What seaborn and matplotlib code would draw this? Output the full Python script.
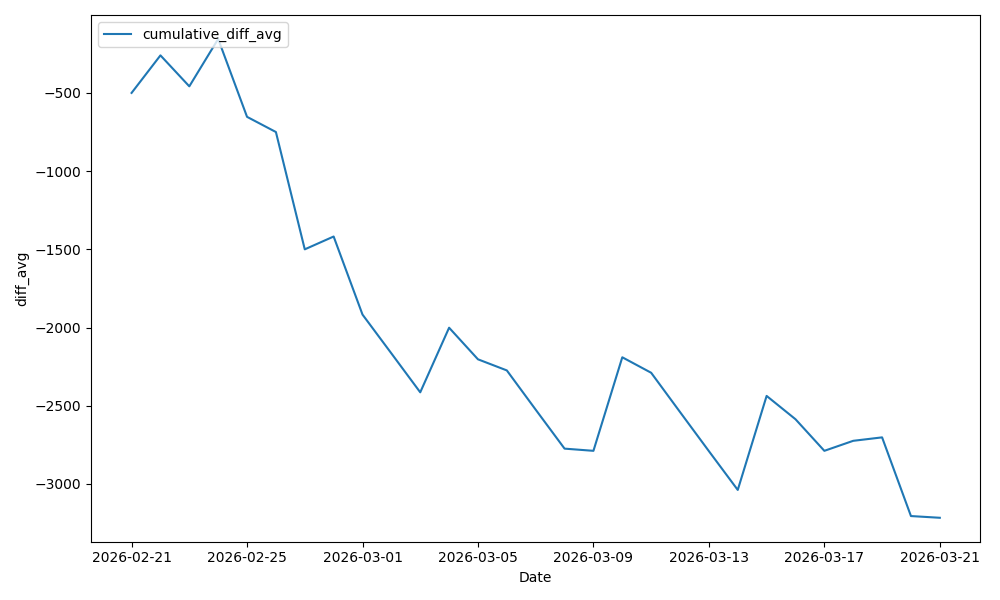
import pandas as pd
import matplotlib
matplotlib.use("Agg")
import matplotlib.pyplot as plt
import seaborn as sns

# daily cumulative diff averages
dates = pd.date_range("2026-02-21", "2026-03-21", freq="D")
cumulative_diff_avg = [
    -500, -260, -458, -155, -653, -750, -1500, -1418, -1917, -2165,
    -2414, -2001, -2203, -2274, -2525, -2774, -2788, -2190, -2289, -2540,
    -2790, -3038, -2437, -2586, -2788, -2724, -2702, -3205, -3216,
]

df = pd.DataFrame({"Date": dates, "cumulative_diff_avg": cumulative_diff_avg})

fig, ax = plt.subplots(figsize=(10, 6))
sns.lineplot(data=df, x="Date", y="cumulative_diff_avg", label="cumulative_diff_avg", ax=ax)
ax.set_xlabel("Date")
ax.set_ylabel("diff_avg")
ax.legend(loc="upper left")
plt.tight_layout()
plt.savefig("out.png", dpi=100)
